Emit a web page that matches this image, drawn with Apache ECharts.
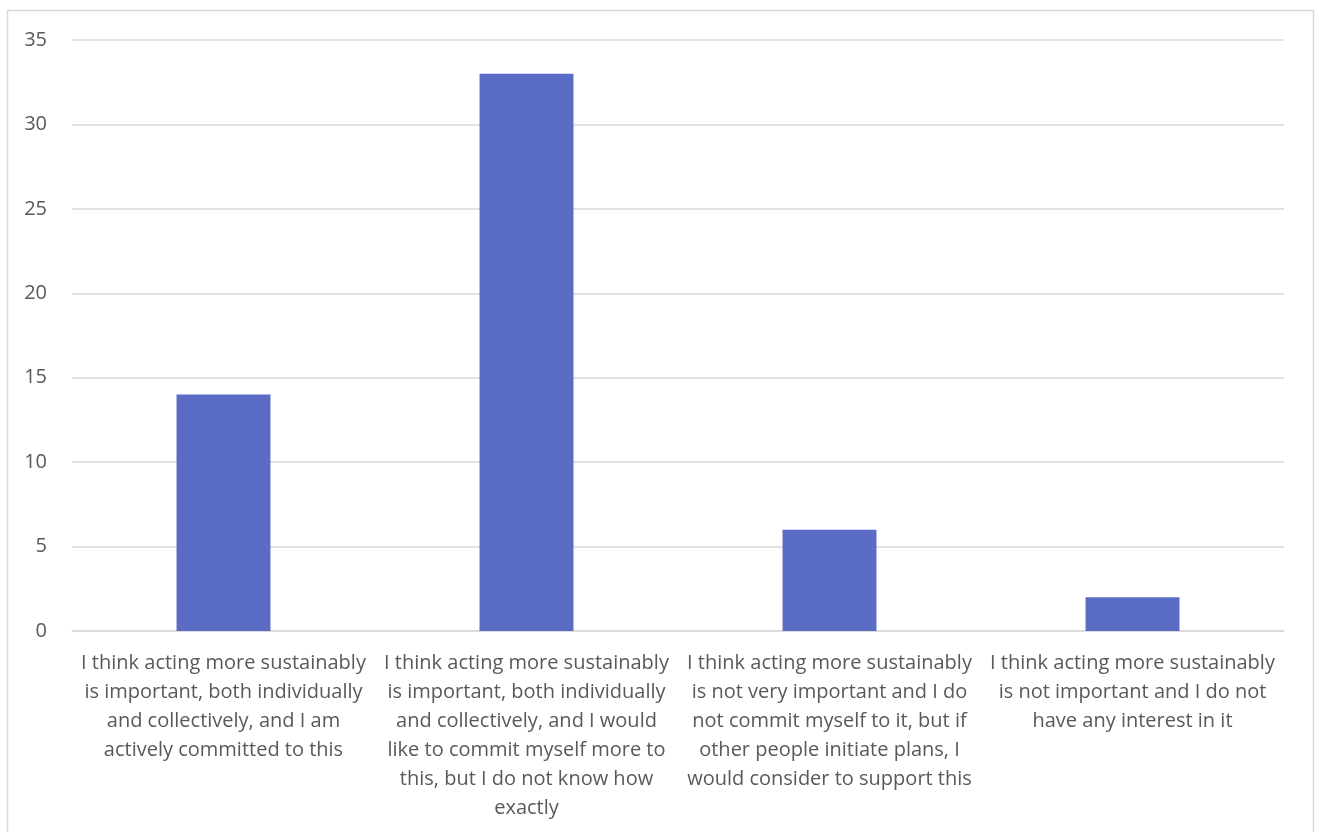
<!DOCTYPE html>
<html>
<head>
<meta charset="utf-8">
<script src="https://cdn.jsdelivr.net/npm/echarts@6/dist/echarts.min.js"></script>
<style>
  html, body { margin: 0; padding: 0; background: #fff; }
  #chart { width: 1319px; height: 832px; }
</style>
</head>
<body>
<div id="chart"></div>
<script>
// Survey answers (category labels, broken into lines as they are shown)
const categories = [
  'I think acting more sustainably\nis important, both individually\nand collectively, and I am\nactively committed to this',
  'I think acting more sustainably\nis important, both individually\nand collectively, and I would\nlike to commit myself more to\nthis, but I do not know how\nexactly',
  'I think acting more sustainably\nis not very important and I do\nnot commit myself to it, but if\nother people initiate plans, I\nwould consider to support this',
  'I think acting more sustainably\nis not important and I do not\nhave any interest in it'
];
// Number of respondents per answer
const counts = [14, 33, 6, 2];
// Value axis range
const yMin = 0;
const yMax = 35;
const yStep = 5;

const FONT = '"Open Sans", "Liberation Sans", sans-serif';
const TEXT = '#595959';
const LINE = '#d9d9d9';

const chart = echarts.init(document.getElementById('chart'), null, { renderer: 'canvas' });
chart.setOption({
  animation: false,
  backgroundColor: '#ffffff',
  graphic: [{
    type: 'rect',
    shape: { x: 7.5, y: 10.5, width: 1306, height: 840 },
    style: { fill: 'none', stroke: LINE, lineWidth: 1.5 },
    silent: true
  }],
  grid: { left: 72, right: 35, top: 40, bottom: 201, containLabel: false },
  xAxis: {
    type: 'category',
    data: categories,
    axisLine: { show: true, lineStyle: { color: LINE, width: 1.5 } },
    axisTick: { show: false },
    axisLabel: {
      interval: 0,
      color: TEXT,
      fontFamily: FONT,
      fontSize: 20,
      lineHeight: 29,
      margin: 18,
      align: 'center'
    }
  },
  yAxis: {
    type: 'value',
    min: yMin,
    max: yMax,
    interval: yStep,
    axisLine: { show: false },
    axisTick: { show: false },
    splitLine: { lineStyle: { color: LINE, width: 1.5 } },
    axisLabel: { color: TEXT, fontFamily: FONT, fontSize: 20, margin: 25 }
  },
  series: [{
    type: 'bar',
    data: counts,
    barWidth: '31%',
    itemStyle: { color: '#5b6cc4' }
  }]
});
</script>
</body>
</html>
